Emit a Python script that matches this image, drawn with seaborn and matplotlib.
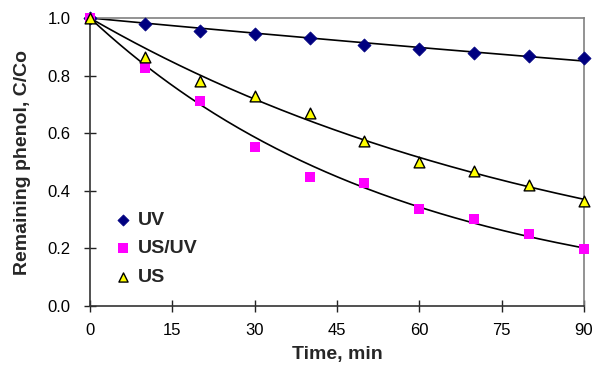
import numpy as np
import pandas as pd
import matplotlib
matplotlib.use("Agg")
import matplotlib.pyplot as plt
import seaborn as sns

time = [0, 10, 20, 30, 40, 50, 60, 70, 80, 90]
uv = [1.0, 0.978, 0.955, 0.943, 0.930, 0.906, 0.892, 0.880, 0.868, 0.862]
us_uv = [1.0, 0.827, 0.712, 0.551, 0.449, 0.426, 0.336, 0.302, 0.250, 0.198]
us = [1.0, 0.865, 0.780, 0.730, 0.670, 0.572, 0.500, 0.470, 0.420, 0.365]
series_names = ["UV", "US/UV", "US"]
x_ticks = [0, 15, 30, 45, 60, 75, 90]
y_ticks = [0.0, 0.2, 0.4, 0.6, 0.8, 1.0]

sns.set_style("white")
plt.rcParams['font.family'] = ['Liberation Sans', 'DejaVu Sans']

fig = plt.figure(figsize=(5.94, 3.65), dpi=100)
ax = fig.add_axes([0.1515, 0.1616, 0.8315, 0.7891])

df = pd.DataFrame({"time": time * 3,
                   "value": uv + us_uv + us,
                   "series": [n for n in series_names for _ in time]})

# exponential trendlines (C/Co = exp(-k t)) fitted from the data by least squares on ln y
tt = np.linspace(0, 90, 200)
tx = np.array(time, dtype=float)
fits = []
for name, vals in zip(series_names, [uv, us_uv, us]):
    k = np.sum(tx * np.log(vals)) / np.sum(tx ** 2)
    fits.append(pd.DataFrame({"time": tt, "value": np.exp(k * tt), "series": name}))
fit_df = pd.concat(fits)
for name in series_names:
    sns.lineplot(data=fit_df[fit_df.series == name], x="time", y="value", color="black",
                 lw=1.2, ax=ax, zorder=2, legend=False)

styles = {
    "UV": dict(marker="D", color="#000080", edgecolor="#000080", s=45, linewidth=0.5),
    "US/UV": dict(marker="s", color="#FF00FF", edgecolor="#FF00FF", s=60, linewidth=0),
    "US": dict(marker="^", color="#FFFF00", edgecolor="black", s=60, linewidth=1.0),
}
for name in series_names:
    sub = df[df.series == name]
    sns.scatterplot(data=sub, x="time", y="value", ax=ax, label=name, zorder=3,
                    clip_on=False, **styles[name])

ax.set_xlim(0, 90)
ax.set_ylim(0, 1.0)
ax.set_xticks(x_ticks)
ax.set_yticks(y_ticks)
ax.set_yticklabels([f"{v:.1f}" for v in y_ticks])
ax.tick_params(axis="both", direction="inout", length=8, width=1, labelsize=12,
               colors="#222222", bottom=True, left=True)
ax.tick_params(axis="x", pad=8)
ax.tick_params(axis="y", pad=10)
for t in ax.get_xticklabels() + ax.get_yticklabels():
    t.set_color("black")
for side in ["left", "bottom"]:
    ax.spines[side].set_color("#333333")
    ax.spines[side].set_linewidth(1.2)
for side in ["top", "right"]:
    ax.spines[side].set_color("#808080")
    ax.spines[side].set_linewidth(1.2)

ax.set_xlabel("Time, min", fontsize=14, fontweight="bold")
ax.set_ylabel("Remaining phenol, C/Co", fontsize=14, fontweight="bold")
ax.xaxis.set_label_coords(0.5, -0.14)
ax.yaxis.set_label_coords(-0.12, 0.5)

leg = ax.legend(loc="lower left", bbox_to_anchor=(0.02, 0.03), frameon=False,
                prop={"weight": "bold", "size": 14}, handletextpad=0.15,
                labelspacing=0.55, handlelength=1.2, borderaxespad=0.2, markerscale=0.85)

fig.savefig("out.png", dpi=100)
